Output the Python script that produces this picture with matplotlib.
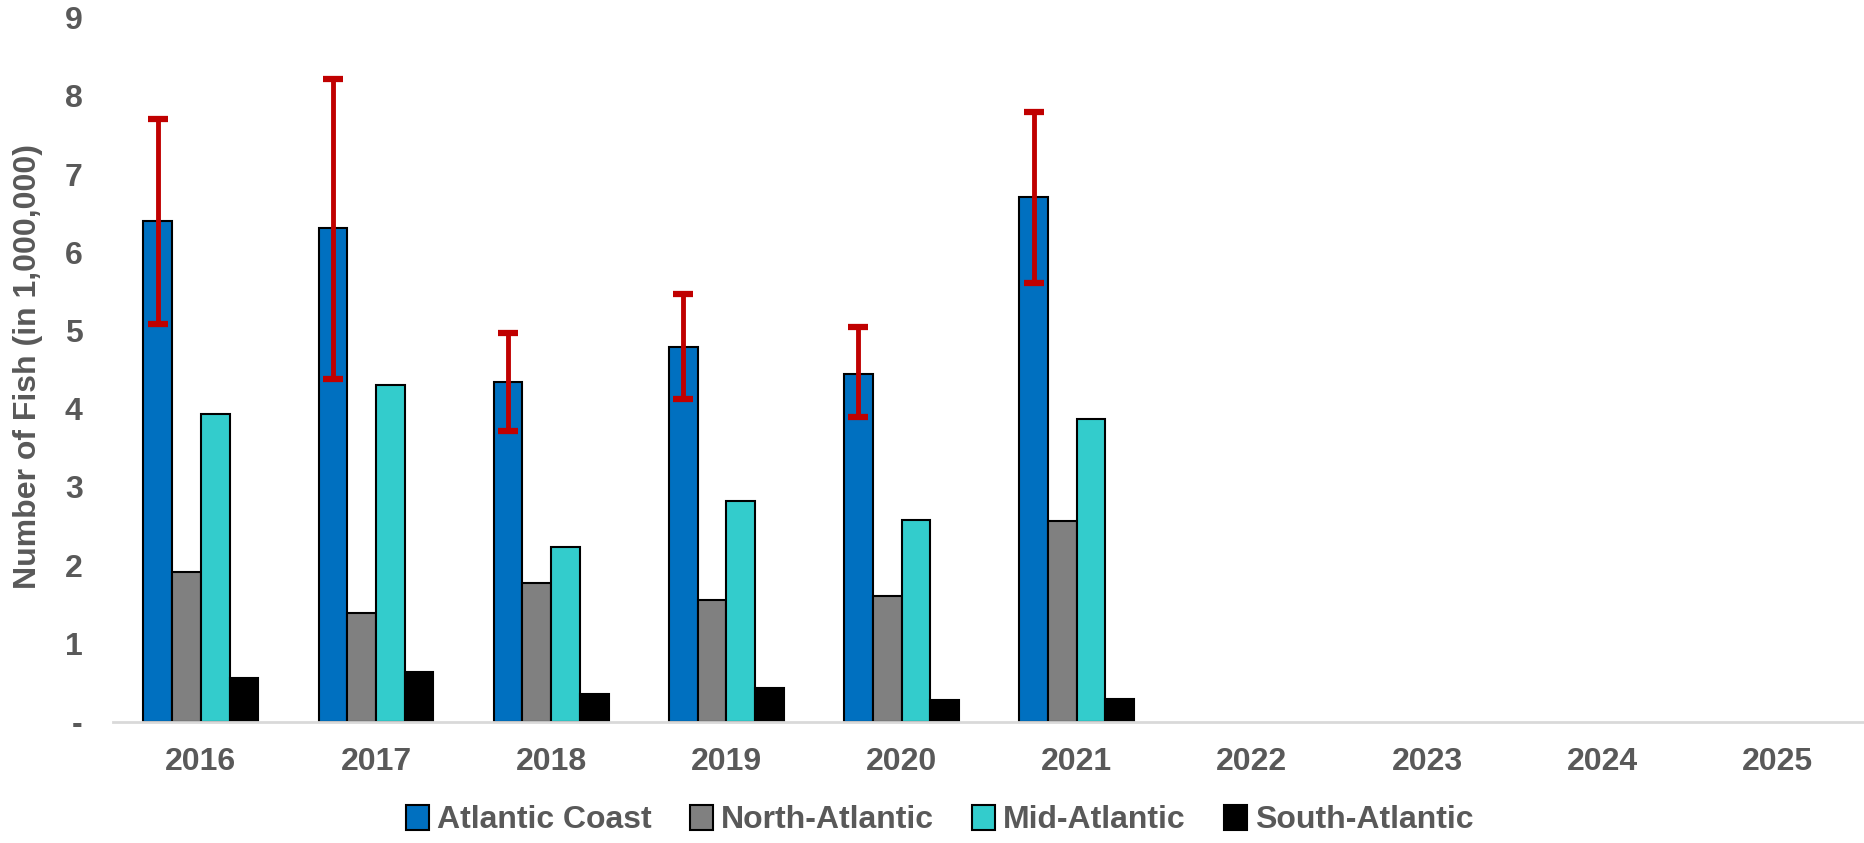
import matplotlib
matplotlib.use("Agg")
import matplotlib.pyplot as plt
import numpy as np
from matplotlib.patches import Patch

years = ["2016", "2017", "2018", "2019", "2020", "2021", "2022", "2023", "2024", "2025"]
series_names = ["Atlantic Coast", "North-Atlantic", "Mid-Atlantic", "South-Atlantic"]
atlantic_coast = [6.40, 6.31, 4.34, 4.79, 4.45, 6.71]
north_atlantic = [1.91, 1.39, 1.77, 1.55, 1.60, 2.56]
mid_atlantic = [3.93, 4.30, 2.23, 2.82, 2.58, 3.87]
south_atlantic = [0.56, 0.63, 0.35, 0.43, 0.27, 0.29]
ci_upper = [7.71, 8.22, 4.97, 5.47, 5.05, 7.80]
ci_lower = [5.09, 4.38, 3.72, 4.12, 3.89, 5.61]
ytick_labels = ["-", "1", "2", "3", "4", "5", "6", "7", "8", "9"]

colors = ["#0070C0", "#808080", "#33CCCC", "#000000"]
text_color = "#595959"

plt.rcParams['font.family'] = ['Liberation Sans', 'DejaVu Sans']
plt.rcParams['font.weight'] = 'bold'

fig = plt.figure(figsize=(18.65, 8.43), dpi=100)
ax = fig.add_axes([0.0607, 0.144, 0.9393, 0.835])

bw = 0.164
series = [atlantic_coast, north_atlantic, mid_atlantic, south_atlantic]
n = len(atlantic_coast)
x = np.arange(n)
for i, (vals, c) in enumerate(zip(series, colors)):
    offs = (i - 1.5) * bw
    ax.bar(x + offs, vals, width=bw, color=c, edgecolor="black", linewidth=1.5, zorder=2)

ac = np.array(atlantic_coast)
yerr = np.vstack([ac - np.array(ci_lower), np.array(ci_upper) - ac])
ax.errorbar(x - 1.5 * bw, ac, yerr=yerr, fmt="none", ecolor="#C00000",
            elinewidth=3.5, capsize=7, capthick=4.5, zorder=3)

ax.set_xlim(-0.5, len(years) - 0.5)
ax.set_ylim(0, 9)
ax.set_xticks(np.arange(len(years)))
ax.set_xticklabels(years)
ax.set_yticks(np.arange(10))
ax.set_yticklabels(ytick_labels)
ax.tick_params(axis="both", length=0, labelsize=23, labelcolor=text_color)
ax.tick_params(axis="y", pad=22)
ax.tick_params(axis="x", pad=18)
for s in ["top", "right", "left"]:
    ax.spines[s].set_visible(False)
ax.spines["bottom"].set_color("#D9D9D9")
ax.spines["bottom"].set_linewidth(2)

ax.set_ylabel("Number of Fish (in 1,000,000)", fontsize=23, color=text_color,
              fontweight="bold")
ax.yaxis.set_label_coords(-0.040, 0.505)

handles = [Patch(facecolor=c, edgecolor="black", linewidth=1.5) for c in colors]
leg = fig.legend(handles, series_names, loc="center", bbox_to_anchor=(0.504, 0.027),
                 ncol=4, frameon=False, fontsize=23, handlelength=0.72, handleheight=0.82,
                 handletextpad=0.25, columnspacing=1.2)
for t in leg.get_texts():
    t.set_color(text_color)

fig.savefig("out.png", dpi=100)
